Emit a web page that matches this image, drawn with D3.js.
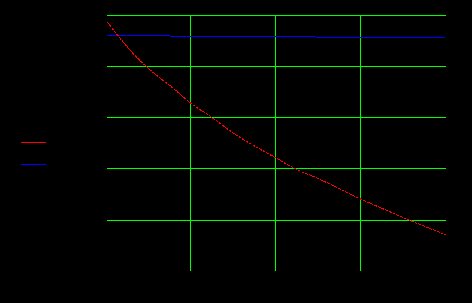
<!DOCTYPE html>
<html>
<head>
<meta charset="utf-8">
<script src="https://cdn.jsdelivr.net/npm/d3@7"></script>
<style>
  html, body { margin: 0; padding: 0; background: #000; }
  svg { display: block; }
</style>
</head>
<body>
<svg id="chart" width="472" height="303"></svg>
<script>
// ---- data ----
const xTicks = [1, 2, 3];
const yTicks = [0.2, 0.4, 0.6, 0.8, 1.0];
const curveX = [0.015, 0.134, 0.3, 0.487, 0.8, 1.0, 1.252, 1.506, 2.0, 2.232, 2.487, 3.0, 3.25, 3.565, 4.0];
const curveY = [0.973, 0.923, 0.857, 0.795, 0.711, 0.655, 0.598, 0.537, 0.441, 0.398, 0.362, 0.280, 0.244, 0.199, 0.141];
const flatX = [0.015, 4.0];
const flatY = [0.9178, 0.9087];
const seriesColors = ["#ff0000", "#0000ff"];

const svg = d3.select("#chart");
svg.append("rect").attr("width", 472).attr("height", 303).attr("fill", "#000");

const x = d3.scaleLinear().domain([0, 4]).range([105.5, 445.5]);
const y = d3.scaleLinear().domain([0, 1]).range([270.75, 14.5]);

const grid = svg.append("g").attr("shape-rendering", "crispEdges");
// horizontal grid lines
grid.selectAll("line.h").data(yTicks).enter().append("line")
  .attr("class", "h")
  .attr("x1", x(0.015)).attr("x2", x(4))
  .attr("y1", d => Math.round(y(d)) + 0.5).attr("y2", d => Math.round(y(d)) + 0.5)
  .attr("stroke", "#00ff00").attr("stroke-width", 1);
// vertical grid lines
grid.selectAll("line.v").data(xTicks).enter().append("line")
  .attr("class", "v")
  .attr("x1", d => Math.round(x(d) - 0.5) + 0.5).attr("x2", d => Math.round(x(d) - 0.5) + 0.5)
  .attr("y1", y(0)).attr("y2", y(0.995))
  .attr("stroke", "#00ff00").attr("stroke-width", 1);

// invisible (black) axis tick labels
svg.append("g").selectAll("text").data(yTicks).enter().append("text")
  .attr("x", 100).attr("y", d => y(d) + 4).attr("text-anchor", "end")
  .attr("font-family", "DejaVu Sans").attr("font-size", 11).attr("fill", "#000")
  .text(d => d.toFixed(1));
svg.append("g").selectAll("text").data(xTicks).enter().append("text")
  .attr("x", d => x(d)).attr("y", 285).attr("text-anchor", "middle")
  .attr("font-family", "DejaVu Sans").attr("font-size", 11).attr("fill", "#000")
  .text(d => d);

// blue near-constant line
const flatData = flatX.map((d, i) => [d, flatY[i]]);
svg.append("path").datum(flatData)
  .attr("d", d3.line().x(d => x(d[0])).y(d => y(d[1])))
  .attr("fill", "none").attr("stroke", seriesColors[1]).attr("stroke-width", 1)
  .attr("shape-rendering", "crispEdges");

// red decreasing curve
const curveData = curveX.map((d, i) => [d, curveY[i]]);
svg.append("path").datum(curveData)
  .attr("d", d3.line().curve(d3.curveMonotoneX).x(d => x(d[0])).y(d => y(d[1])))
  .attr("fill", "none").attr("stroke", seriesColors[0]).attr("stroke-width", 1)
  .attr("stroke-dasharray", "3,1")
  .attr("shape-rendering", "crispEdges");

// legend
const legendY = [142.5, 164.5];
const lg = svg.append("g").attr("shape-rendering", "crispEdges");
lg.selectAll("line").data(seriesColors).enter().append("line")
  .attr("x1", 21).attr("x2", 46)
  .attr("y1", (d, i) => legendY[i]).attr("y2", (d, i) => legendY[i])
  .attr("stroke", d => d).attr("stroke-width", 1);
</script>
</body>
</html>
